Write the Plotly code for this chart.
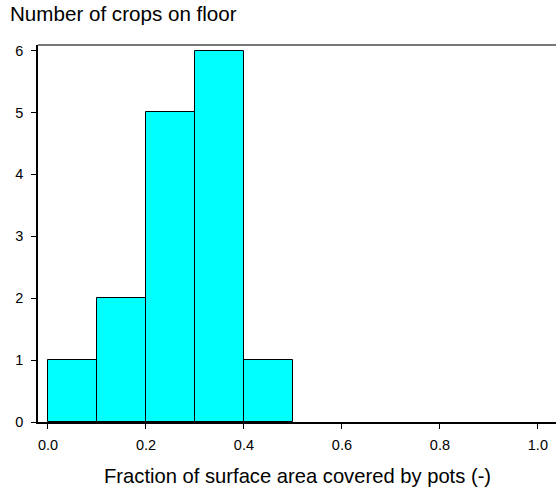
import plotly.graph_objects as go

# Histogram bins (fraction of surface area covered by pots) and crop counts
bin_left = [0.0, 0.1, 0.2, 0.3, 0.4]
bin_width = 0.1
counts = [1, 2, 5, 6, 1]

x_ticks = [0.0, 0.2, 0.4, 0.6, 0.8, 1.0]
x_tick_text = ["0.0", "0.2", "0.4", "0.6", "0.8", "1.0"]
y_ticks = [0, 1, 2, 3, 4, 5, 6]

font_family = "Liberation Sans, Arial, sans-serif"

fig = go.Figure(
    go.Bar(
        x=[b + bin_width / 2 for b in bin_left],
        y=counts,
        width=bin_width,
        marker=dict(color="#00FFFF", line=dict(color="black", width=1)),
        hoverinfo="x+y",
    )
)

PLOT_W = 556 - 38  # plotting area width in px

fig.update_layout(
    width=556,
    height=490,
    margin=dict(l=38, r=0, t=45, b=67.5),
    plot_bgcolor="white",
    paper_bgcolor="white",
    showlegend=False,
    bargap=0,
    font=dict(family=font_family, color="black"),
    xaxis=dict(
        range=[-0.0204, 1.037],
        tickvals=x_ticks,
        ticktext=x_tick_text,
        ticks="outside",
        ticklen=5,
        tickwidth=1,
        tickcolor="black",
        ticklabelstandoff=4,
        showline=True,
        linecolor="black",
        linewidth=1.5,
        showgrid=False,
        zeroline=False,
        tickfont=dict(size=14.5),
        automargin=False,
    ),
    yaxis=dict(
        range=[0, 6.09],
        tickvals=y_ticks,
        ticks="outside",
        ticklen=5,
        tickwidth=1,
        tickcolor="black",
        ticklabelstandoff=5,
        showline=True,
        linecolor="black",
        linewidth=1.5,
        showgrid=False,
        zeroline=False,
        tickfont=dict(size=14.5),
        automargin=False,
    ),
    shapes=[
        dict(
            type="line", xref="paper", yref="paper",
            x0=0, x1=1, y0=1, y1=1,
            line=dict(color="#777777", width=2),
        )
    ],
    annotations=[
        dict(
            text="Number of crops on floor",
            xref="paper", yref="paper",
            x=-30 / PLOT_W, y=1, xanchor="left", yanchor="bottom",
            yshift=18,
            showarrow=False,
            font=dict(size=20.6),
        ),
        dict(
            text="Fraction of surface area covered by pots (-)",
            xref="paper", yref="paper",
            x=0.5, y=0, xanchor="center", yanchor="top",
            yshift=-41,
            showarrow=False,
            font=dict(size=20.2),
        ),
    ],
)

fig.write_html("out.html")
